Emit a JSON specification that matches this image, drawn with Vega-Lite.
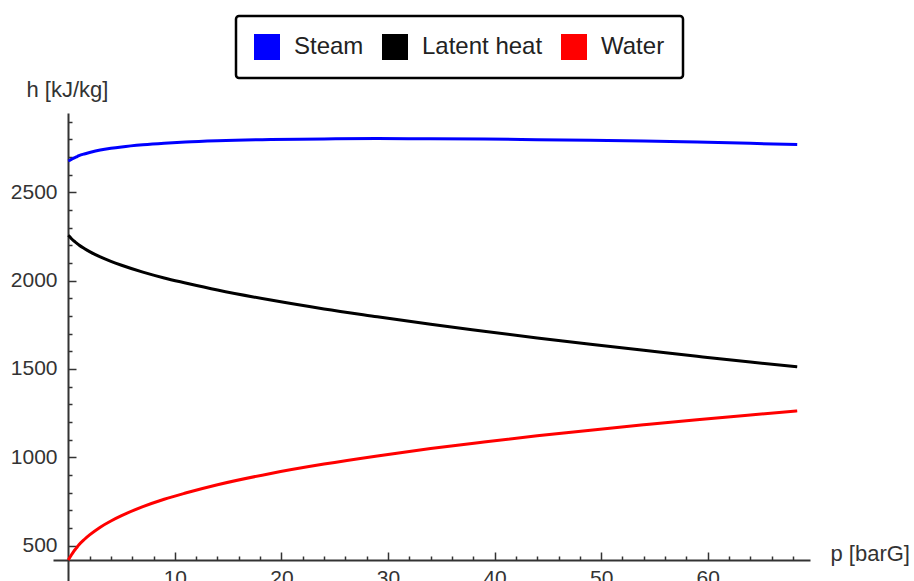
{
  "$schema": "https://vega.github.io/schema/vega-lite/v6.json",
  "width": 757,
  "height": 468,
  "autosize": {"type": "none"},
  "padding": {"left": 53, "top": 113, "right": 104, "bottom": 0},
  "background": "white",
  "config": {"view": {"stroke": null}, "font": "Liberation Sans"},
  "data": {
    "values": [
      {"p": 0, "Steam": 2677, "Latent heat": 2257, "Water": 419},
      {"p": 0.1, "Steam": 2680, "Latent heat": 2251, "Water": 429},
      {"p": 0.3, "Steam": 2686, "Latent heat": 2237, "Water": 449},
      {"p": 0.5, "Steam": 2693, "Latent heat": 2226, "Water": 467},
      {"p": 0.75, "Steam": 2700, "Latent heat": 2214, "Water": 486},
      {"p": 1, "Steam": 2707, "Latent heat": 2202, "Water": 505},
      {"p": 1.5, "Steam": 2717, "Latent heat": 2182, "Water": 535},
      {"p": 2, "Steam": 2725, "Latent heat": 2164, "Water": 561},
      {"p": 3, "Steam": 2739, "Latent heat": 2134, "Water": 605},
      {"p": 4, "Steam": 2749, "Latent heat": 2109, "Water": 640},
      {"p": 5, "Steam": 2757, "Latent heat": 2087, "Water": 670},
      {"p": 7, "Steam": 2769, "Latent heat": 2048, "Water": 721},
      {"p": 9, "Steam": 2778, "Latent heat": 2015, "Water": 763},
      {"p": 11, "Steam": 2785, "Latent heat": 1987, "Water": 798},
      {"p": 14, "Steam": 2792, "Latent heat": 1947, "Water": 845},
      {"p": 19, "Steam": 2799, "Latent heat": 1890, "Water": 909},
      {"p": 24, "Steam": 2802, "Latent heat": 1840, "Water": 962},
      {"p": 29, "Steam": 2804, "Latent heat": 1796, "Water": 1008},
      {"p": 34, "Steam": 2803, "Latent heat": 1753, "Water": 1050},
      {"p": 39, "Steam": 2801, "Latent heat": 1714, "Water": 1087},
      {"p": 44, "Steam": 2798, "Latent heat": 1676, "Water": 1122},
      {"p": 49, "Steam": 2794, "Latent heat": 1640, "Water": 1154},
      {"p": 54, "Steam": 2790, "Latent heat": 1606, "Water": 1184},
      {"p": 59, "Steam": 2784, "Latent heat": 1572, "Water": 1213},
      {"p": 64, "Steam": 2777, "Latent heat": 1539, "Water": 1240},
      {"p": 68.4, "Steam": 2770, "Latent heat": 1512, "Water": 1263}
    ]
  },
  "transform": [{"fold": ["Steam", "Latent heat", "Water"], "as": ["series", "h"]}],
  "mark": {"type": "line", "strokeWidth": 3, "interpolate": "monotone"},
  "encoding": {
    "x": {
      "field": "p",
      "type": "quantitative",
      "scale": {"domain": [-1.435, 69.6], "nice": false, "zero": false},
      "axis": {
        "offset": -21,
        "values": [2,4,6,8,10,12,14,16,18,20,22,24,26,28,30,32,34,36,38,40,42,44,46,48,50,52,54,56,58,60,62,64,66,68],
        "format": "d",
        "labelExpr": "datum.value % 10 === 0 ? datum.label : ''",
        "tickSize": {"condition": {"test": "datum.value % 10 === 0", "value": -8}, "value": -4},
        "tickColor": "#333",
        "tickWidth": 1.5,
        "domainColor": "#333",
        "domainWidth": 2,
        "grid": false,
        "labelFontSize": 21,
        "labelColor": "#333",
        "labelPadding": 15,
        "labelFlush": false,
        "labelOverlap": false,
        "title": "p [barG]",
        "titleFontSize": 22,
        "titleFontWeight": "normal",
        "titleColor": "#333",
        "titleX": 777,
        "titleY": 0,
        "titleAlign": "left",
        "titleBaseline": "alphabetic"
      }
    },
    "y": {
      "field": "h",
      "type": "quantitative",
      "scale": {"domain": [300.2, 2948.8], "nice": false, "zero": false},
      "axis": {
        "offset": -15,
        "values": [500,600,700,800,900,1000,1100,1200,1300,1400,1500,1600,1700,1800,1900,2000,2100,2200,2300,2400,2500,2600,2700,2800,2900],
        "format": "d",
        "labelExpr": "datum.value % 500 === 0 ? datum.label : ''",
        "tickSize": {"condition": {"test": "datum.value % 500 === 0", "value": -8}, "value": -4},
        "tickColor": "#333",
        "tickWidth": 1.5,
        "domainColor": "#333",
        "domainWidth": 2,
        "grid": false,
        "labelFontSize": 21,
        "labelColor": "#333",
        "labelPadding": 19,
        "labelFlush": false,
        "labelOverlap": false,
        "title": "h [kJ/kg]",
        "titleFontSize": 22,
        "titleFontWeight": "normal",
        "titleColor": "#333",
        "titleAngle": 0,
        "titleX": -42,
        "titleY": -17,
        "titleAlign": "left",
        "titleBaseline": "alphabetic"
      }
    },
    "color": {
      "field": "series",
      "type": "nominal",
      "scale": {"domain": ["Steam", "Latent heat", "Water"], "range": ["#0000ff", "#000000", "#ff0000"]},
      "legend": {
        "title": null,
        "orient": "none",
        "direction": "horizontal",
        "legendX": 183,
        "legendY": -97,
        "symbolType": "square",
        "symbolSize": 676,
        "symbolStrokeWidth": 0,
        "labelFontSize": 24,
        "labelColor": "#222",
        "labelOffset": 14,
        "columnPadding": 18,
        "padding": 18,
        "strokeColor": "#000",
        "fillColor": "white",
        "cornerRadius": 3,
        "encode": {
          "legend": {"update": {"strokeWidth": {"value": 2.5}}},
          "symbols": {"update": {"fill": {"scale": "color", "field": "value"}, "fillOpacity": {"value": 1}}}
        }
      }
    }
  }
}
